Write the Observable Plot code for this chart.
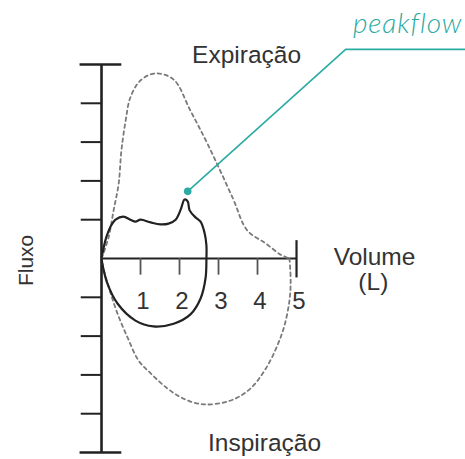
<!DOCTYPE html>
<html>
<head>
<meta charset="utf-8">
<script src="https://cdn.jsdelivr.net/npm/d3@7"></script>
<script src="https://cdn.jsdelivr.net/npm/@observablehq/plot@0.6"></script>
<style>
  html, body { margin: 0; padding: 0; background: #fff; }
  #chart svg { display: block; }
  .callout text { letter-spacing: 0.9px; }
</style>
</head>
<body>
<div id="chart"></div>
<script>
// Normal flow-volume loop, [volume (L), flow (L/s)]
const normalExpiration = [
  [0, 0], [0.18, 0.54], [0.31, 1.24], [0.44, 1.93], [0.51, 2.78], [0.62, 3.56],
  [0.74, 4.15], [1.0, 4.59], [1.38, 4.77], [1.85, 4.61], [2.28, 3.81], [2.74, 2.91],
  [3.36, 1.57], [3.74, 0.72], [4.21, 0.39], [4.59, 0.10], [4.82, 0]
];
const normalInspiration = [
  [4.82, 0], [4.85, -0.57], [4.82, -1.08], [4.69, -1.73], [4.51, -2.24], [4.21, -2.84],
  [3.82, -3.35], [3.31, -3.66], [2.62, -3.76], [2.10, -3.61], [1.69, -3.35], [1.26, -2.96],
  [0.95, -2.63], [0.67, -2.04], [0.41, -1.42], [0.21, -0.82], [0.05, -0.26], [0, 0]
];

// Measured loop (solid)
const measuredLoop = [
  [0, 0], [0.05, 0.26], [0.13, 0.57], [0.23, 0.82], [0.36, 1.0], [0.56, 1.08],
  [0.74, 1.0], [0.87, 0.95], [1.0, 1.0], [1.26, 0.93], [1.51, 0.88], [1.72, 0.90],
  [1.9, 1.0], [2.03, 1.26], [2.13, 1.52], [2.21, 1.47], [2.26, 1.24], [2.41, 1.06],
  [2.54, 0.95], [2.64, 0.67], [2.69, 0.34], [2.69, 0],
  [2.67, -0.49], [2.54, -1.03], [2.28, -1.44], [1.85, -1.68], [1.33, -1.75],
  [0.87, -1.60], [0.41, -1.16], [0.15, -0.64], [0.03, -0.18], [0, 0]
];

// Peak flow marker and its leader line
const peakPoint = [[2.21, 1.73]];
const peakLeader = [[2.21, 1.73], [6.26, 5.39], [9.4, 5.39]];

// Axis ticks and labels
const xTicks = [1, 2, 3, 4, 5];
const xTickLabels = ["1", "2", "3", "4", "5"];
const yTicks = [-4, -3, -2, -1, 1, 2, 3, 4];
const yCaps = [-5, 5];
const axisLimit = 5;

const ink = "#222";
const labelInk = "#333";
const teal = "#2aaba3";
const sans = "Liberation Sans, Arial, Helvetica, sans-serif";

const W = 465, H = 459;

const chart = Plot.plot({
  width: W,
  height: H,
  margin: 0,
  x: {domain: [-2.59, 9.333], axis: null},
  y: {domain: [-5.18, 6.649], axis: null},
  marks: [
    // Flow (vertical) axis with left ticks and end caps
    Plot.ruleX([0], {y1: -axisLimit, y2: axisLimit, stroke: ink, strokeWidth: 2.6}),
    Plot.ruleY(yTicks, {x1: -0.52, x2: 0, stroke: ink, strokeWidth: 2}),
    Plot.ruleY(yCaps, {x1: -0.55, x2: 0.52, stroke: ink, strokeWidth: 2.4}),
    // Volume (horizontal) axis with ticks and end cap
    Plot.ruleY([0], {x1: 0, x2: axisLimit, stroke: ink, strokeWidth: 2.2}),
    Plot.ruleX(xTicks.slice(0, -1), {y1: 0, y2: -0.43, stroke: "#555", strokeWidth: 1.8}),
    Plot.ruleX([axisLimit], {y1: 0.46, y2: -0.5, stroke: ink, strokeWidth: 2.2}),
    Plot.text(xTickLabels, {
      x: (d, i) => xTicks[i] + 0.06, y: () => -1.29, text: d => d,
      lineAnchor: "bottom", fontSize: 24, fontFamily: sans, fill: labelInk
    }),

    // Normal loop (dashed)
    Plot.line(normalExpiration, {
      x: d => d[0], y: d => d[1], curve: "catmull-rom",
      stroke: "#7a7a7a", strokeWidth: 1.8, strokeDasharray: "3.5,3.5"
    }),
    Plot.line(normalInspiration, {
      x: d => d[0], y: d => d[1], curve: "catmull-rom",
      stroke: "#7a7a7a", strokeWidth: 1.8, strokeDasharray: "3.5,3.5"
    }),

    // Measured loop (solid)
    Plot.line(measuredLoop, {
      x: d => d[0], y: d => d[1], curve: "catmull-rom",
      stroke: ink, strokeWidth: 2.2
    }),

    // Peak flow callout
    Plot.line(peakLeader, {x: d => d[0], y: d => d[1], stroke: teal, strokeWidth: 1.6}),
    Plot.dot(peakPoint, {x: d => d[0], y: d => d[1], r: 3.8, fill: teal}),
    Plot.text(["peakflow"], {
      x: () => 9.256, y: () => 5.80, text: d => d, textAnchor: "end", lineAnchor: "bottom",
      fontSize: 28, fontFamily: "Lato, 'Open Sans', sans-serif", fontWeight: 300,
      fontStyle: "italic", fill: teal, className: "callout"
    }),

    // Axis and phase labels
    Plot.text(["Expiração"], {
      x: () => 3.72, y: () => 5.03, text: d => d, lineAnchor: "bottom",
      fontSize: 24.5, fontFamily: sans, fill: labelInk
    }),
    Plot.text(["Inspiração"], {
      x: () => 4.18, y: () => -4.97, text: d => d, lineAnchor: "bottom",
      fontSize: 24.5, fontFamily: sans, fill: labelInk
    }),
    Plot.text(["Volume"], {
      x: () => 7.0, y: () => -0.155, text: d => d, lineAnchor: "bottom",
      fontSize: 24.5, fontFamily: sans, fill: labelInk
    }),
    Plot.text(["(L)"], {
      x: () => 6.97, y: () => -0.82, text: d => d, lineAnchor: "bottom",
      fontSize: 24.5, fontFamily: sans, fill: labelInk
    }),
    Plot.text(["Fluxo"], {
      x: () => -1.92, y: () => -0.05, text: d => d, rotate: -90,
      fontSize: 21, fontFamily: sans, fill: labelInk
    })
  ]
});

document.getElementById("chart").appendChild(chart);
</script>
</body>
</html>
